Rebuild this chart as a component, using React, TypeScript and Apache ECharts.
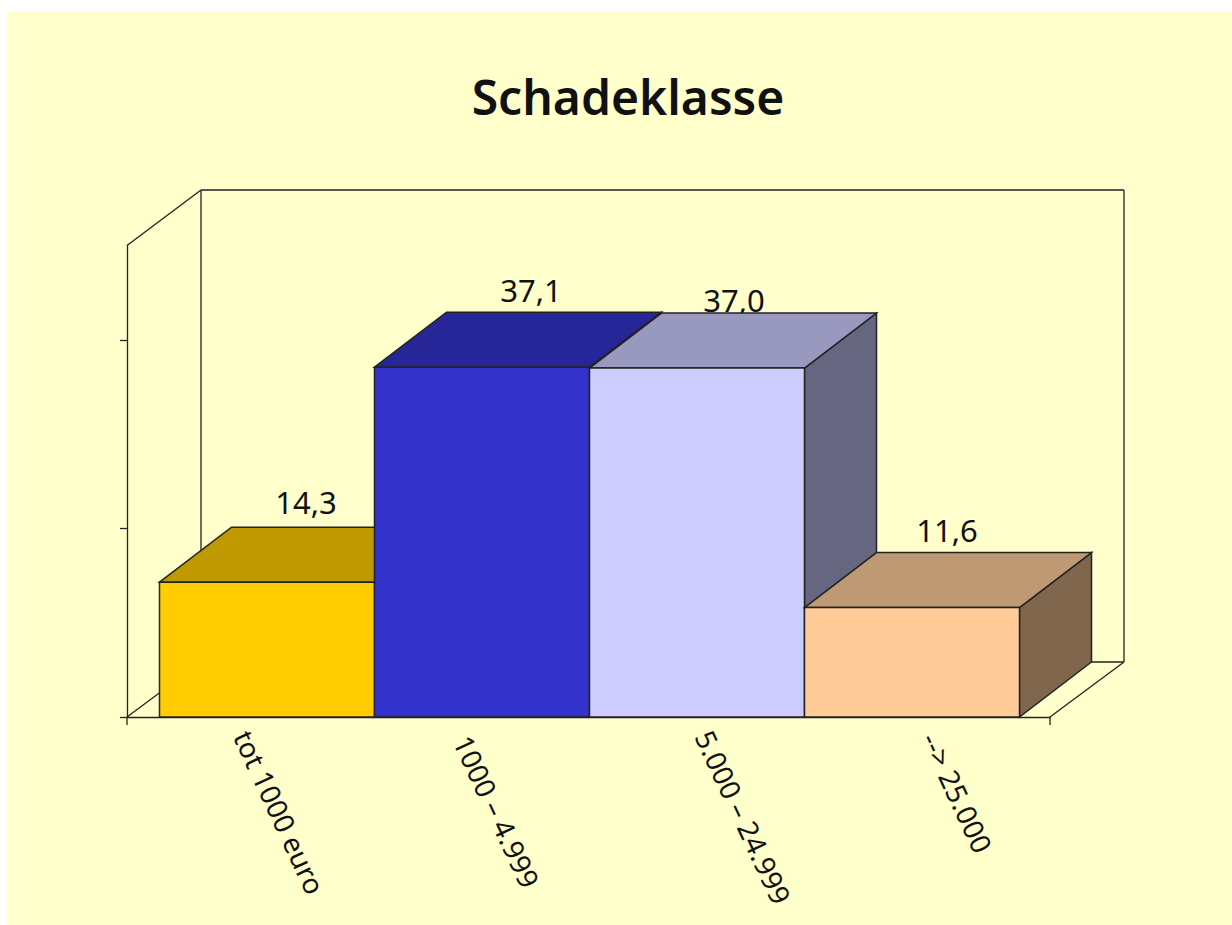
import React, { useEffect, useRef } from "react";
import * as echarts from "echarts";

const titleText = "Schadeklasse";
const categories = ["tot 1000 euro", "1000 – 4.999", "5.000 – 24.999", "--> 25.000"];
const values = [14.3, 37.1, 37.0, 11.6];
const frontColors = ["#FFCC00", "#3333CC", "#CCCCFF", "#FFCC99"];
const topColors = ["#BF9900", "#262699", "#9999BF", "#BF9973"];
const sideColors = ["#806600", "#1A1A66", "#666680", "#80664D"];
const yTicks = [0, 20, 40];
const labelNudgeX = [39, 49, 37, 35];
const labelNudgeY = [-80, -77, -68, -78];
const tickLabelStyles = ["plain", "far", "plain", "near"];

const INK = "#222222";
const DEPTH_X = 72;
const DEPTH_Y = -55;
const FONT = '"Noto Sans", sans-serif';
const LABEL_SIZE = 28;

const line = (x1: number, y1: number, x2: number, y2: number) => ({
  type: "line",
  shape: { x1, y1, x2, y2 },
  style: { stroke: INK, lineWidth: 1.3 },
  silent: true,
});

const richLabel = (paddingTop: number) => ({
  fontFamily: FONT,
  fontSize: LABEL_SIZE,
  color: "#111111",
  padding: [paddingTop, 0, 0, 0],
});

export default function App() {
  const ref = useRef<HTMLDivElement>(null);

  useEffect(() => {
    const chart = echarts.init(ref.current!, null, { renderer: "svg" });
    const axisGrid = { left: 127, right: 182, top: 245.5, bottom: 208 };
    const barGrid = { left: 159.5, right: 212.5, top: 245.5, bottom: 208 };
    chart.setOption({
      animation: false,
      backgroundColor: "transparent",
      title: {
        text: titleText,
        left: 623,
        top: 67,
        textAlign: "center",
        textStyle: { fontFamily: FONT, fontSize: 48, fontWeight: 600, color: "#111111" },
      },
      grid: [axisGrid, barGrid],
      xAxis: [
        {
          type: "category",
          gridIndex: 0,
          data: categories,
          boundaryGap: true,
          axisLine: { lineStyle: { color: INK, width: 1.3 } },
          axisTick: { show: false },
          axisLabel: {
            interval: 0,
            rotate: -65,
            margin: 15,
            color: "#111111",
            fontFamily: FONT,
            fontSize: LABEL_SIZE,
            hideOverlap: false,
            formatter: (value: string, index: number) => `{${tickLabelStyles[index]}|${value}}`,
            rich: { plain: richLabel(0), far: richLabel(24), near: richLabel(10) },
          },
        },
        { type: "category", gridIndex: 1, data: categories, show: false },
      ],
      yAxis: [
        {
          type: "value",
          gridIndex: 0,
          min: 0,
          max: 50,
          interval: 10,
          axisLine: { show: true, lineStyle: { color: INK, width: 1.3 } },
          axisTick: { show: true, length: 7, customValues: yTicks, lineStyle: { color: INK, width: 1.3 } },
          axisLabel: { show: false },
          splitLine: { show: false },
        },
        { type: "value", gridIndex: 1, min: 0, max: 50, show: false },
      ],
      graphic: {
        elements: [
          line(201, 190, 1124, 190),
          line(201, 190, 201, 662),
          line(1124, 190, 1124, 662),
          line(201, 662, 1124, 662),
          line(127, 245.5, 201, 190),
          line(127, 717, 201, 662),
          line(1050, 717, 1124, 662),
          line(127, 717, 127, 725),
          line(1050, 717, 1050, 725),
        ],
      },
      series: [
        {
          type: "custom",
          xAxisIndex: 1,
          yAxisIndex: 1,
          z: 10,
          clip: false,
          encode: { x: 0, y: 1 },
          data: values.map((v, i) => [i, v]),
          renderItem: (_p: any, api: any) => {
            const i = api.value(0);
            const v = api.value(1);
            const [cx, top] = api.coord([i, v]);
            const [, base] = api.coord([i, 0]);
            const w = api.size([1, 0])[0];
            const l = cx - w / 2;
            const r = cx + w / 2;
            const stroke = { stroke: INK, lineWidth: 1.5 };
            return {
              type: "group",
              children: [
                {
                  type: "text",
                  style: {
                    text: v.toFixed(1).replace(".", ","),
                    x: cx + labelNudgeX[i],
                    y: top + labelNudgeY[i],
                    align: "center",
                    verticalAlign: "middle",
                    fontFamily: FONT,
                    fontSize: 31,
                    fill: "#111111",
                  },
                },
                {
                  type: "polygon",
                  shape: {
                    points: [
                      [r, top],
                      [r + DEPTH_X, top + DEPTH_Y],
                      [r + DEPTH_X, base + DEPTH_Y],
                      [r, base],
                    ],
                  },
                  style: { fill: sideColors[i], ...stroke },
                },
                {
                  type: "polygon",
                  shape: {
                    points: [
                      [l, top],
                      [l + DEPTH_X, top + DEPTH_Y],
                      [r + DEPTH_X, top + DEPTH_Y],
                      [r, top],
                    ],
                  },
                  style: { fill: topColors[i], ...stroke },
                },
                {
                  type: "rect",
                  shape: { x: l, y: top, width: r - l, height: base - top },
                  style: { fill: frontColors[i], ...stroke },
                },
              ],
            };
          },
        },
      ],
    });
    return () => chart.dispose();
  }, []);

  return (
    <div style={{ position: "absolute", left: 0, top: 0, width: 1232, height: 925, background: "#FFFFFF", overflow: "hidden" }}>
      <div style={{ position: "absolute", left: 7, top: 12, right: 0, bottom: 0, background: "#FFFFCC" }} />
      <div ref={ref} style={{ position: "absolute", left: 0, top: 0, width: 1232, height: 925 }} />
    </div>
  );
}
